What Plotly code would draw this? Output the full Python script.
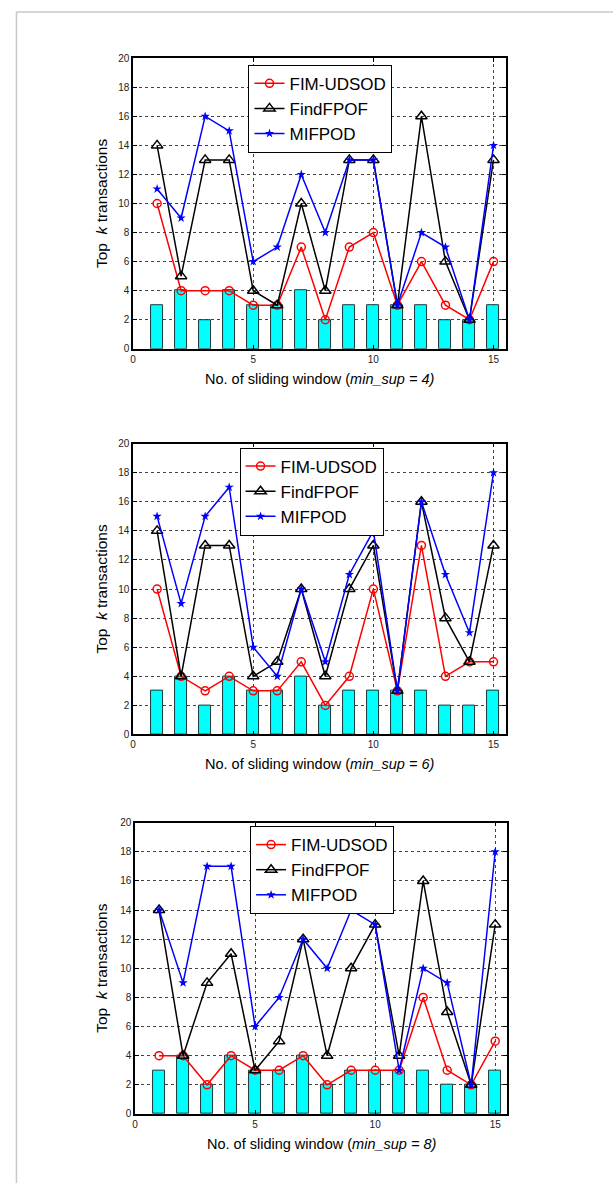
import plotly.graph_objects as go

windows = list(range(1, 16))

bars_sup4 = [3, 4, 2, 4, 3, 3, 4, 2, 3, 3, 3, 3, 2, 2, 3]
fim_sup4 = [10, 4, 4, 4, 3, 3, 7, 2, 7, 8, 3, 6, 3, 2, 6]
find_sup4 = [14, 5, 13, 13, 4, 3, 10, 4, 13, 13, 3, 16, 6, 2, 13]
mif_sup4 = [11, 9, 16, 15, 6, 7, 12, 8, 13, 13, 3, 8, 7, 2, 14]

bars_sup6 = [3, 4, 2, 4, 3, 3, 4, 2, 3, 3, 3, 3, 2, 2, 3]
fim_sup6 = [10, 4, 3, 4, 3, 3, 5, 2, 4, 10, 3, 13, 4, 5, 5]
find_sup6 = [14, 4, 13, 13, 4, 5, 10, 4, 10, 13, 3, 16, 8, 5, 13]
mif_sup6 = [15, 9, 15, 17, 6, 4, 10, 5, 11, 14, 3, 16, 11, 7, 18]

bars_sup8 = [3, 4, 2, 4, 3, 3, 4, 2, 3, 3, 3, 3, 2, 2, 3]
fim_sup8 = [4, 4, 2, 4, 3, 3, 4, 2, 3, 3, 3, 8, 3, 2, 5]
find_sup8 = [14, 4, 9, 11, 3, 5, 12, 4, 10, 13, 4, 16, 7, 2, 13]
mif_sup8 = [14, 9, 17, 17, 6, 8, 12, 10, 14, 13, 3, 10, 9, 2, 18]

min_sups = [4, 6, 8]
series_names = ["FIM-UDSOD", "FindFPOF", "MIFPOD"]

W, H = 613, 1188
FONT = "Liberation Sans, Arial, Helvetica, sans-serif"

# pixel layout of the three panels: (left, right, top, bottom)
boxes = [(130.7, 505.0, 52.7, 346.0),
         (130.7, 505.0, 441.7, 735.3),
         (132.7, 506.7, 824.3, 1118.3)]
legend_pos = [(246.7, 59.3), (237.7, 445.7), (248.3, 827.7)]

data = [(bars_sup4, fim_sup4, find_sup4, mif_sup4),
        (bars_sup6, fim_sup6, find_sup6, mif_sup6),
        (bars_sup8, fim_sup8, find_sup8, mif_sup8)]

fig = go.Figure()
layout = dict(width=W, height=H, margin=dict(l=0, r=0, t=0, b=0),
              paper_bgcolor="white", plot_bgcolor="white",
              font=dict(family=FONT, color="black"))
annotations = []

for i, (bars, fim, find, mif) in enumerate(data):
    sfx = "" if i == 0 else str(i + 1)
    xa, ya = "x" + sfx, "y" + sfx
    leg = "legend" + sfx
    fig.add_trace(go.Bar(x=windows, y=bars, width=0.5, xaxis=xa, yaxis=ya,
                         marker=dict(color="#00FFFF", line=dict(color="#1a3a3a", width=1)),
                         showlegend=False))
    fig.add_trace(go.Scatter(x=windows, y=fim, mode="lines+markers", name=series_names[0],
                             xaxis=xa, yaxis=ya, legend=leg,
                             line=dict(color="red", width=1.5),
                             marker=dict(symbol="circle-open", size=8, color="red",
                                         line=dict(width=1.5))))
    fig.add_trace(go.Scatter(x=windows, y=find, mode="lines+markers", name=series_names[1],
                             xaxis=xa, yaxis=ya, legend=leg,
                             line=dict(color="black", width=1.5),
                             marker=dict(symbol="triangle-up-open", size=10, color="black",
                                         line=dict(width=1.5))))
    fig.add_trace(go.Scatter(x=windows, y=mif, mode="lines+markers", name=series_names[2],
                             xaxis=xa, yaxis=ya, legend=leg,
                             line=dict(color="blue", width=1.5),
                             marker=dict(symbol="star", size=7, color="blue")))
    l, r, t, b = boxes[i]
    axis_common = dict(showline=True, linecolor="black", linewidth=1.5, mirror="ticks",
                       ticks="inside", ticklen=4, tickcolor="black", tickwidth=1,
                       showgrid=True, gridcolor="#444444", griddash="dot", gridwidth=1,
                       zeroline=False, tickfont=dict(size=10, family=FONT, color="#222222"))
    layout["xaxis" + sfx] = dict(domain=[l / W, r / W], range=[0, 15.5],
                                 tickvals=[0, 5, 10, 15], anchor=ya, **axis_common)
    layout["yaxis" + sfx] = dict(domain=[1 - b / H, 1 - t / H], range=[0, 20],
                                 tickvals=list(range(0, 21, 2)), anchor=xa, **axis_common)
    lx, ly = legend_pos[i]
    layout[leg] = dict(x=lx / W, y=1 - ly / H, xanchor="left", yanchor="top",
                       bordercolor="black", borderwidth=1, bgcolor="white",
                       font=dict(size=17, family=FONT), tracegroupgap=0,
                       itemwidth=30)
    # x title
    annotations.append(dict(x=(l + r) / 2 / W, y=1 - (b + 30) / H, xref="paper", yref="paper",
                            text="No. of sliding window (<i>min_sup = %d)</i>" % min_sups[i],
                            showarrow=False, font=dict(size=14.5, family=FONT),
                            xanchor="center", yanchor="middle"))
    # y title
    annotations.append(dict(x=99 / W, y=1 - ((t + b) / 2) / H, xref="paper", yref="paper",
                            text="Top  <i>k</i> transactions", textangle=-90,
                            showarrow=False, font=dict(size=15.5, family=FONT),
                            xanchor="center", yanchor="middle"))

layout["annotations"] = annotations
layout["shapes"] = [
    dict(type="line", xref="paper", yref="paper", x0=13.5 / W, x1=1, y0=1 - 6 / H, y1=1 - 6 / H,
         line=dict(color="#c8c8c8", width=1.5)),
    dict(type="line", xref="paper", yref="paper", x0=13.5 / W, x1=13.5 / W, y0=0, y1=1 - 6 / H,
         line=dict(color="#c8c8c8", width=1.5)),
]
layout["bargap"] = 0
fig.update_layout(**layout)
fig.write_html("out.html")
